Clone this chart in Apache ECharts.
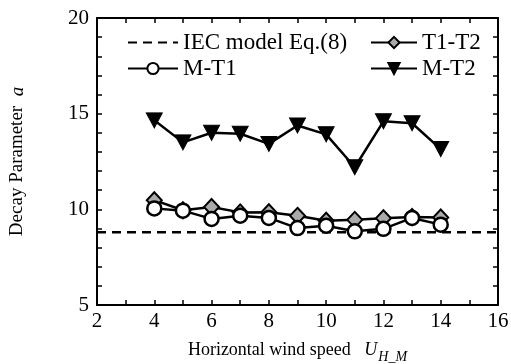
<!DOCTYPE html>
<html><head><meta charset="utf-8">
<script src="https://cdn.jsdelivr.net/npm/echarts@6/dist/echarts.min.js"></script>
<style>html,body{margin:0;padding:0;background:#fff}#c{width:511px;height:364px}</style>
</head><body><div id="c"></div>
<script>
const windSpeed = [4,5,6,7,8,9,10,11,12,13,14];
const mT1 = [10.05,9.93,9.5,9.67,9.55,9.02,9.14,8.85,8.98,9.55,9.2];
const t1T2 = [10.48,9.95,10.12,9.84,9.85,9.66,9.4,9.45,9.53,9.6,9.57];
const mT2 = [14.65,13.5,14.0,13.95,13.42,14.38,13.92,12.2,14.6,14.5,13.15];
const iecValue = 8.8;
const xRange = [2,16];
const yRange = [5,20];

const font = 'Liberation Serif';
const chart = echarts.init(document.getElementById('c'));
const axisLine = {show:true, lineStyle:{color:'#000', width:2}};
const tick = {show:true, inside:true, length:5, lineStyle:{color:'#000', width:1.5}};
const legendText = {fontFamily:font, fontSize:23, color:'#000'};
chart.setOption({
  animation:false,
  backgroundColor:'#fff',
  textStyle:{fontFamily:font, color:'#000'},
  grid:{left:97, right:13, top:18, bottom:59, containLabel:false, outerBoundsMode:'none'},
  legend:[{
    left:122, top:26, orient:'vertical', itemWidth:50, itemHeight:14, itemGap:3,
    textStyle:legendText,
    data:['IEC model Eq.(8)','M-T1']
  },{
    left:365, top:26, orient:'vertical', itemWidth:46, itemHeight:14, itemGap:3,
    textStyle:legendText,
    data:['T1-T2','M-T2']
  }],
  xAxis:[{
    type:'value', min:xRange[0], max:xRange[1], interval:1,
    axisLine, axisTick:tick, splitLine:{show:false},
    axisLabel:{fontFamily:font, fontSize:21, color:'#000', margin:6,
      formatter:v=> v%2===0 ? String(v) : ''},
    name:'Horizontal wind speed   {i|U}{s|H_M}', nameLocation:'middle', nameGap:31,
    nameTextStyle:{fontFamily:font, fontSize:18, color:'#000',
      rich:{i:{fontFamily:font, fontStyle:'italic', fontSize:18, color:'#000'},
            s:{fontFamily:font, fontStyle:'italic', fontSize:14, color:'#000', padding:[14,0,0,1]}}}
  },{
    type:'value', position:'top', min:xRange[0], max:xRange[1], interval:1,
    axisLine, axisTick:tick, axisLabel:{show:false}, splitLine:{show:false}
  }],
  yAxis:[{
    type:'value', min:yRange[0], max:yRange[1], interval:1,
    axisLine, axisTick:tick, splitLine:{show:false},
    axisLabel:{fontFamily:font, fontSize:21, color:'#000', margin:8,
      formatter:v=> v%5===0 ? String(v) : ''},
    name:'Decay Parameter  {i|a}', nameLocation:'middle', nameGap:70, nameRotate:90,
    nameTextStyle:{fontFamily:font, fontSize:19, color:'#000',
      rich:{i:{fontFamily:font, fontStyle:'italic', fontSize:19, color:'#000'}}}
  },{
    type:'value', position:'right', min:yRange[0], max:yRange[1], interval:1,
    axisLine, axisTick:tick, axisLabel:{show:false}, splitLine:{show:false}
  }],
  series:[{
    name:'IEC model Eq.(8)', type:'line', symbol:'none',
    data:[[xRange[0],iecValue],[xRange[1],iecValue]],
    lineStyle:{color:'#000', width:2.5, type:[9,6]}, itemStyle:{color:'#000', opacity:0}
  },{
    name:'T1-T2', type:'line', symbol:'diamond', symbolSize:[15,16],
    data:windSpeed.map((x,i)=>[x,t1T2[i]]),
    lineStyle:{color:'#000', width:2.5},
    itemStyle:{color:'#aaa', borderColor:'#000', borderWidth:2}
  },{
    name:'M-T1', type:'line', symbol:'circle', symbolSize:14,
    data:windSpeed.map((x,i)=>[x,mT1[i]]),
    lineStyle:{color:'#000', width:2.5},
    itemStyle:{color:'#fff', borderColor:'#000', borderWidth:2.5}
  },{
    name:'M-T2', type:'line', symbol:'triangle', symbolRotate:180, symbolSize:[16,15],
    data:windSpeed.map((x,i)=>[x,mT2[i]]),
    lineStyle:{color:'#000', width:2.5},
    itemStyle:{color:'#000', borderColor:'#000', borderWidth:1}
  }]
});
</script></body></html>
